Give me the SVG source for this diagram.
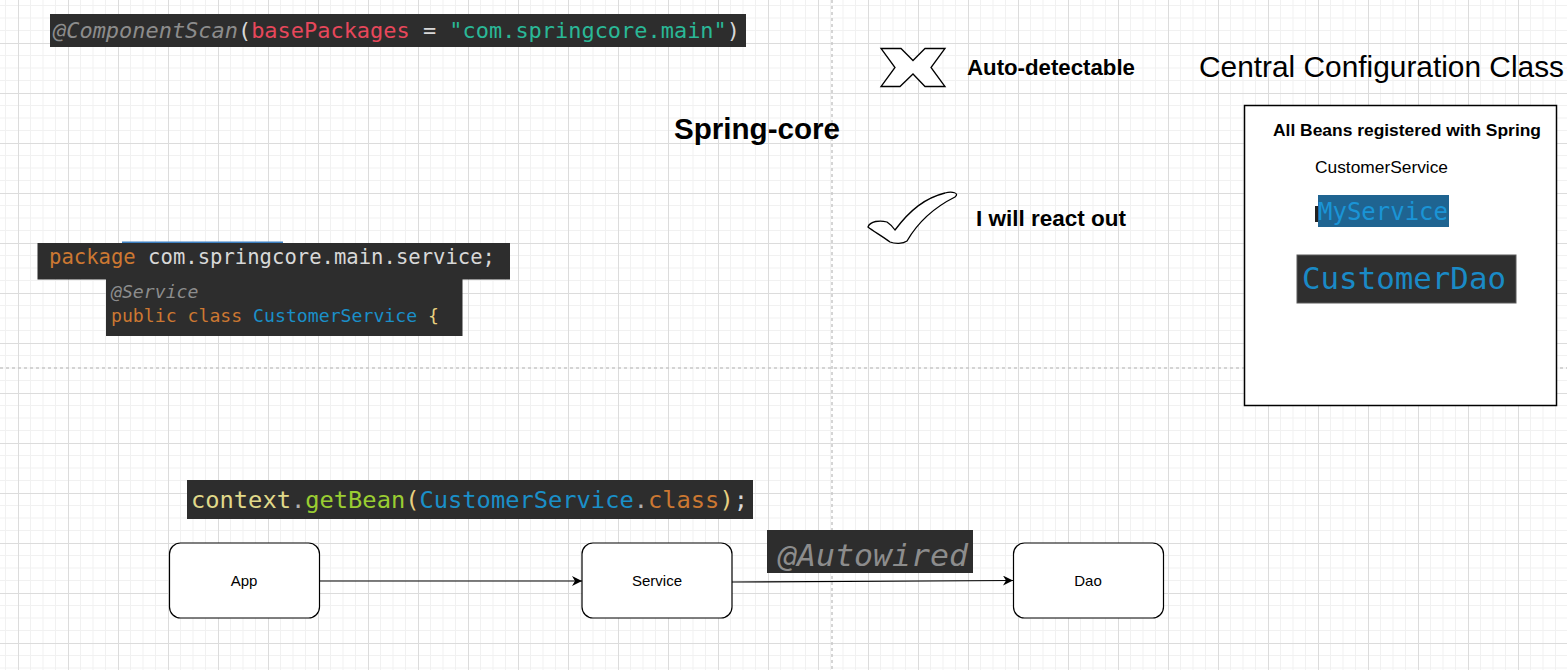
<svg xmlns="http://www.w3.org/2000/svg" width="1567" height="670" viewBox="0 0 1567 670">
  <defs>
    <pattern id="grid" x="18" y="43" width="50" height="50" patternUnits="userSpaceOnUse">
      <path d="M12.5 0V50M25 0V50M37.5 0V50M0 12.5H50M0 25H50M0 37.5H50" stroke="#f1f1f1" stroke-width="1" fill="none"/>
      <path d="M0.5 0V50M0 0.5H50" stroke="#dcdcdc" stroke-width="1" fill="none"/>
    </pattern>
    <marker id="arrow" viewBox="0 0 10 10" refX="10" refY="5" markerWidth="10" markerHeight="10" markerUnits="userSpaceOnUse" orient="auto">
      <path d="M0,0 L10,5 L0,10 L3,5 Z" fill="#000"/>
    </marker>
    <style>
      .code { font-family: "DejaVu Sans Mono", "Liberation Mono", monospace; }
      .codebg { fill: #2d2d2d; }
      .ann { fill: #8c8c8c; font-style: italic; }
      .kw { fill: #cc7832; }
      .plain { fill: #d8d8d8; }
      .type { fill: #1a8fc8; }
      .node rect { fill: #ffffff; stroke: #000; stroke-width: 1.2; }
      .node text { font-family: "Liberation Sans", Arial, sans-serif; font-size: 15px; text-anchor: middle; fill: #000; }
      .label { font-family: "Liberation Sans", Arial, sans-serif; fill: #000; }
      .guide { stroke: #c8c8c8; stroke-width: 1.5; stroke-dasharray: 3 3; fill: none; }
    </style>
  </defs>

  <rect width="1567" height="670" fill="#ffffff"/>
  <rect width="1567" height="670" fill="url(#grid)"/>

  <g id="guides">
    <line class="guide" x1="832" y1="0" x2="832" y2="670"/>
    <line class="guide" x1="0" y1="368" x2="1567" y2="368"/>
  </g>

  <g id="component-scan">
    <rect class="codebg" x="50" y="14" width="696" height="33"/>
    <text class="code" x="53" y="38" font-size="22" textLength="687" lengthAdjust="spacingAndGlyphs"><tspan class="ann">@ComponentScan</tspan><tspan class="plain">(</tspan><tspan fill="#e8475b">basePackages</tspan><tspan class="plain"> = </tspan><tspan fill="#2ab897">"com.springcore.main"</tspan><tspan class="plain">)</tspan></text>
  </g>

  <g id="title">
    <text class="label" x="674" y="139" font-size="29.5" font-weight="bold" textLength="166" lengthAdjust="spacingAndGlyphs">Spring-core</text>
  </g>

  <g id="auto-detectable">
    <path d="M881,48.5 L901,48.5 L913,60.5 L925,48.5 L945,48.5 L931,67.5 L945,86.5 L925,86.5 L913,74 L900,86.5 L881,86.5 L895,67.5 Z" fill="#ffffff" stroke="#000" stroke-width="1.3" stroke-linejoin="miter"/>
    <text class="label" x="967" y="75" font-size="22" font-weight="bold" textLength="168" lengthAdjust="spacingAndGlyphs">Auto-detectable</text>
  </g>

  <g id="react-out">
    <path d="M868,227 C870,221 880,220 887,222 C890,224 893,227 895,230 C910,210 925,198 945,193 C952,191 960,193 955,197 C935,207 918,222 907,241 C903,244 895,244 890,242 C882,236 873,231 868,227 Z" fill="#ffffff" stroke="#000" stroke-width="1.3"/>
    <text class="label" x="976" y="226" font-size="22" font-weight="bold" textLength="150" lengthAdjust="spacingAndGlyphs">I will react out</text>
  </g>

  <g id="central-config">
    <text class="label" x="1199" y="77" font-size="29.5" textLength="365" lengthAdjust="spacingAndGlyphs">Central Configuration Class</text>
  </g>

  <g id="beans-box">
    <rect x="1244.5" y="105.5" width="312" height="300" fill="#ffffff" stroke="#000" stroke-width="1.5"/>
    <text class="label" x="1273" y="136" font-size="17" font-weight="bold" textLength="268" lengthAdjust="spacingAndGlyphs">All Beans registered with Spring</text>
    <text class="label" x="1315" y="173" font-size="17" textLength="133" lengthAdjust="spacingAndGlyphs">CustomerService</text>
    <rect x="1315" y="206" width="3" height="16" fill="#222"/>
    <rect x="1318" y="195" width="131" height="32" fill="#1f6491"/>
    <text class="code" x="1318" y="220" font-size="24" fill="#1a94d6" textLength="130" lengthAdjust="spacingAndGlyphs">MyService</text>
    <rect x="1297" y="255" width="219" height="48" fill="#2f2f2f" stroke="#5a5a5a" stroke-width="1"/>
    <text class="code" x="1302" y="289" font-size="31" fill="#1a8ac6" textLength="204" lengthAdjust="spacingAndGlyphs">CustomerDao</text>
  </g>

  <g id="package-code">
    <rect x="122" y="241.5" width="161" height="2" fill="#3c7fc0"/>
    <rect class="codebg" x="37.5" y="243" width="472.5" height="36.5"/>
    <text class="code" x="49" y="264" font-size="20.5" textLength="446" lengthAdjust="spacingAndGlyphs"><tspan class="kw">package</tspan><tspan class="plain"> com.springcore.main.service;</tspan></text>
    <rect class="codebg" x="106" y="279" width="356.5" height="57"/>
    <text class="code ann" x="111" y="298" font-size="18" textLength="87.5" lengthAdjust="spacingAndGlyphs">@Service</text>
    <text class="code" x="111" y="322" font-size="18" textLength="328" lengthAdjust="spacingAndGlyphs"><tspan class="kw">public class </tspan><tspan class="type">CustomerService</tspan><tspan fill="#e8d080"> {</tspan></text>
  </g>

  <g id="getbean-code">
    <rect class="codebg" x="187" y="480" width="566" height="39"/>
    <text class="code" x="191" y="508" font-size="23.5" textLength="557" lengthAdjust="spacingAndGlyphs"><tspan fill="#e0d98a">context</tspan><tspan fill="#b0b0b0">.</tspan><tspan fill="#9acd32">getBean</tspan><tspan fill="#e8d080">(</tspan><tspan class="type">CustomerService</tspan><tspan fill="#b0b0b0">.</tspan><tspan class="kw">class</tspan><tspan fill="#e8d080">)</tspan><tspan class="plain">;</tspan></text>
  </g>

  <g id="connectors">
    <line x1="319.5" y1="581" x2="582" y2="581" stroke="#000" stroke-width="1.2" marker-end="url(#arrow)"/>
    <line x1="732" y1="582" x2="1013" y2="580.5" stroke="#000" stroke-width="1.2" marker-end="url(#arrow)"/>
  </g>

  <g id="autowired-label">
    <rect class="codebg" x="767" y="530" width="206" height="43"/>
    <text class="code ann" x="778" y="566" font-size="31" fill="#8e8e8e" textLength="190" lengthAdjust="spacingAndGlyphs">@Autowired</text>
  </g>

  <g id="node-app" class="node">
    <rect x="169.5" y="543" width="150" height="75" rx="11" ry="11"/>
    <text x="244" y="586">App</text>
  </g>
  <g id="node-service" class="node">
    <rect x="582" y="543" width="150" height="75" rx="11" ry="11"/>
    <text x="657" y="586">Service</text>
  </g>
  <g id="node-dao" class="node">
    <rect x="1013.5" y="543" width="150" height="75" rx="11" ry="11"/>
    <text x="1088" y="586">Dao</text>
  </g>
</svg>
